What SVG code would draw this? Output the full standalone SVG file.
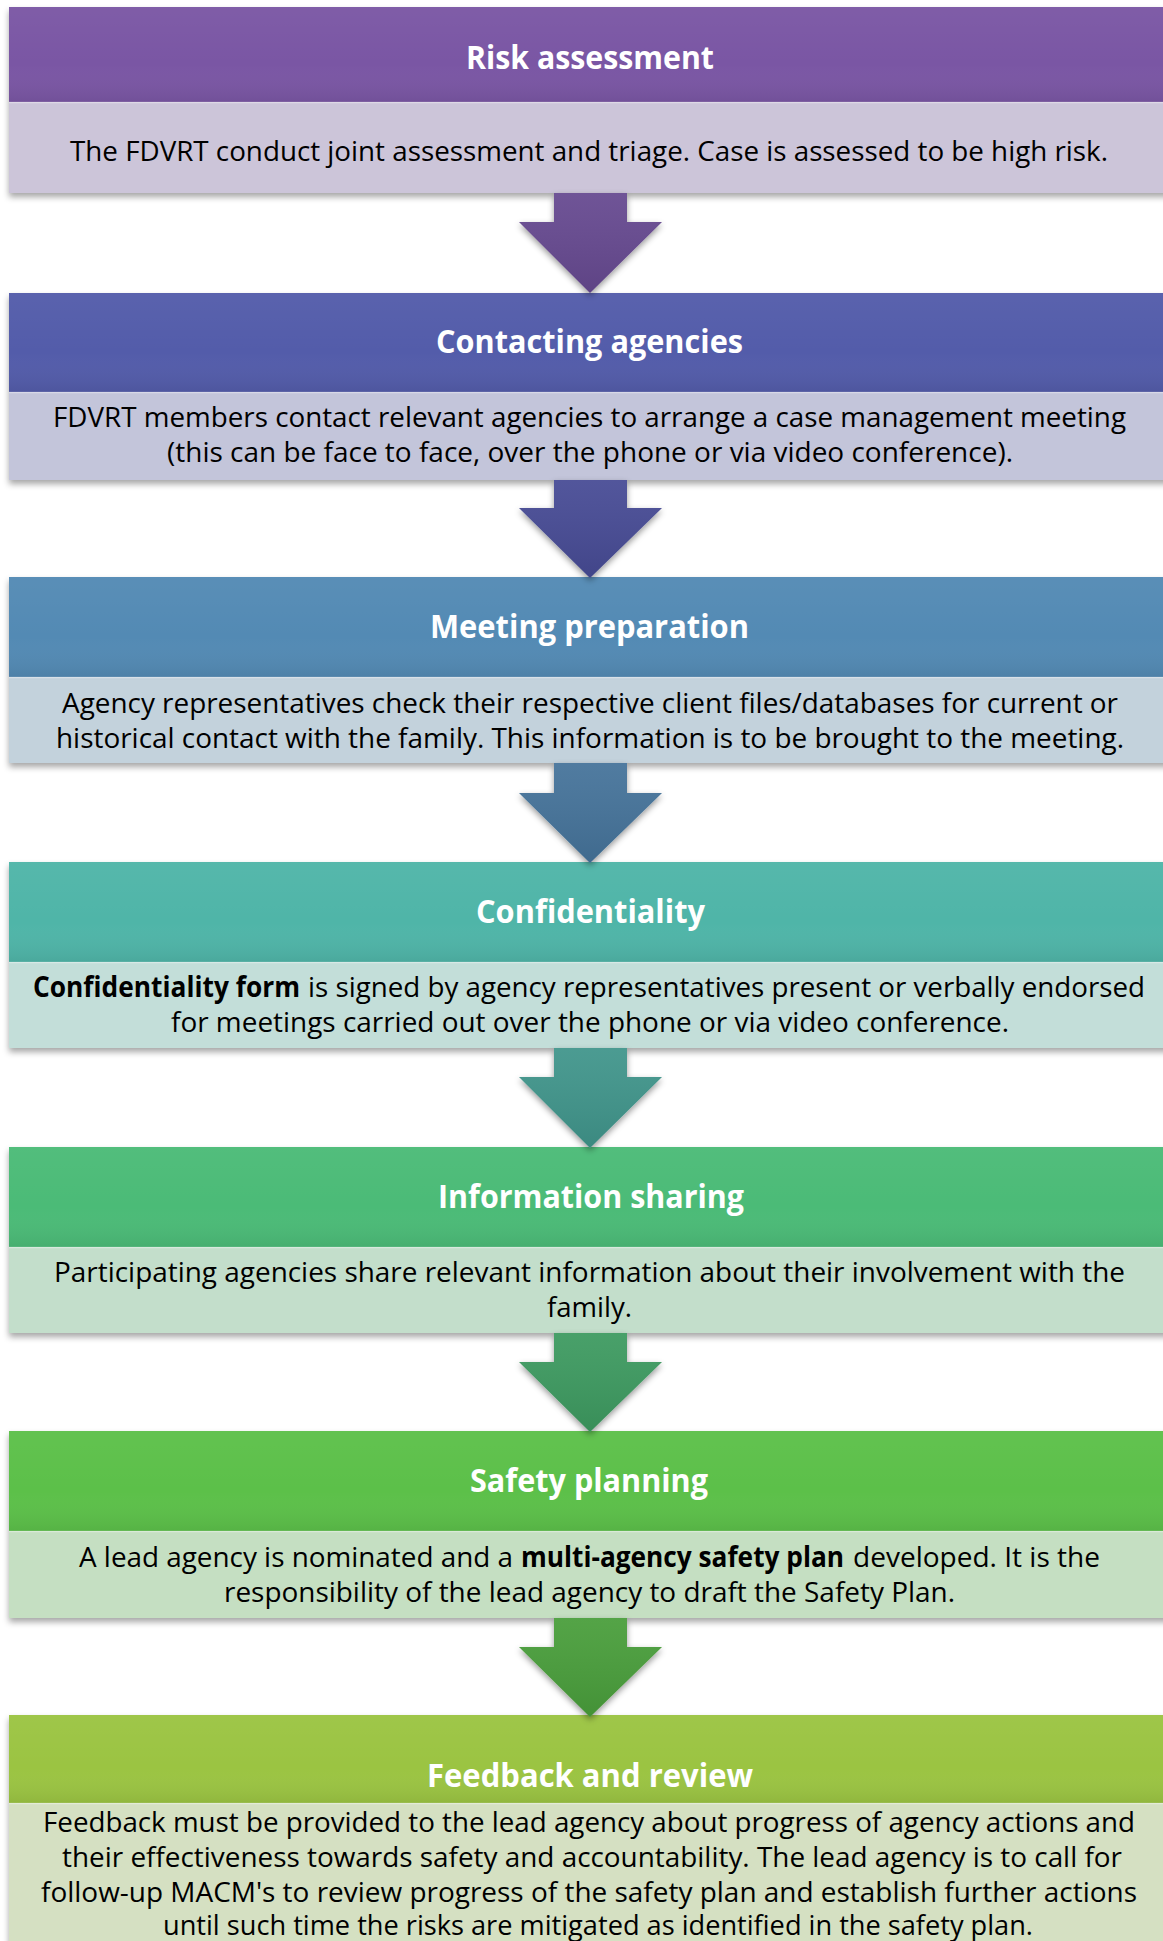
<svg xmlns="http://www.w3.org/2000/svg" width="1163" height="1941" viewBox="0 0 1163 1941">
<defs>
<filter id="sh" x="-5%" y="-10%" width="110%" height="130%">
<feDropShadow dx="0" dy="4" stdDeviation="3" flood-color="#000" flood-opacity="0.35"/>
</filter>
<filter id="ash" x="-30%" y="-10%" width="160%" height="130%">
<feDropShadow dx="0" dy="3" stdDeviation="3" flood-color="#000" flood-opacity="0.4"/>
</filter>
<linearGradient id="shade" x1="0" y1="0" x2="0" y2="1">
<stop offset="0" stop-color="#fff" stop-opacity="0.04"/>
<stop offset="0.6" stop-color="#fff" stop-opacity="0"/>
<stop offset="1" stop-color="#000" stop-opacity="0.07"/>
</linearGradient>
<linearGradient id="ashade" x1="0" y1="0" x2="0" y2="1">
<stop offset="0" stop-color="#fff" stop-opacity="0.06"/>
<stop offset="1" stop-color="#000" stop-opacity="0.08"/>
</linearGradient>
</defs>
<style>
.t{font-family:"Open Sans","Noto Sans","Liberation Sans",sans-serif;font-weight:bold;font-size:32px;fill:#fff}
.b{font-family:"Open Sans","Noto Sans","Liberation Sans",sans-serif;font-size:28px;fill:#000}
.bb{font-family:"Open Sans","Noto Sans","Liberation Sans",sans-serif;font-size:28px;font-weight:bold;fill:#000}
.ov{fill:url(#shade)}
.aov{fill:url(#ashade)}
.sep{stroke:#fff;stroke-opacity:0.35;stroke-width:1.5}
</style>
<rect width="1163" height="1941" fill="#fff"/>

<g id="node-risk-assessment">
<g filter="url(#sh)">
<rect x="9" y="7" width="1170" height="95" fill="#7A57A4"/>
<rect x="9" y="102" width="1170" height="91" fill="#CCC5D9"/>
</g>
<rect x="9" y="7" width="1170" height="95" class="ov"/>
<line x1="9" y1="102.5" x2="1179" y2="102.5" class="sep"/>
<text class="t" x="466" y="69" textLength="248" lengthAdjust="spacingAndGlyphs">Risk assessment</text>
<text class="b" x="70" y="161" textLength="1038" lengthAdjust="spacingAndGlyphs">The FDVRT conduct joint assessment and triage. Case is assessed to be high risk.</text>
</g>

<g id="node-contacting-agencies">
<g filter="url(#sh)">
<rect x="9" y="293" width="1170" height="99" fill="#535BAA"/>
<rect x="9" y="392" width="1170" height="88" fill="#C3C5DA"/>
</g>
<rect x="9" y="293" width="1170" height="99" class="ov"/>
<line x1="9" y1="392.5" x2="1179" y2="392.5" class="sep"/>
<text class="t" x="436" y="353" textLength="307" lengthAdjust="spacingAndGlyphs">Contacting agencies</text>
<text class="b" x="53" y="427" textLength="1073" lengthAdjust="spacingAndGlyphs">FDVRT members contact relevant agencies to arrange a case management meeting</text>
<text class="b" x="167" y="462" textLength="846" lengthAdjust="spacingAndGlyphs">(this can be face to face, over the phone or via video conference).</text>
</g>

<g id="node-meeting-preparation">
<g filter="url(#sh)">
<rect x="9" y="577" width="1170" height="100" fill="#528AB4"/>
<rect x="9" y="677" width="1170" height="86" fill="#C3D2DC"/>
</g>
<rect x="9" y="577" width="1170" height="100" class="ov"/>
<line x1="9" y1="677.5" x2="1179" y2="677.5" class="sep"/>
<text class="t" x="430" y="638" textLength="319" lengthAdjust="spacingAndGlyphs">Meeting preparation</text>
<text class="b" x="62" y="713" textLength="1056" lengthAdjust="spacingAndGlyphs">Agency representatives check their respective client files/databases for current or</text>
<text class="b" x="56" y="748" textLength="1068" lengthAdjust="spacingAndGlyphs">historical contact with the family. This information is to be brought to the meeting.</text>
</g>

<g id="node-confidentiality">
<g filter="url(#sh)">
<rect x="9" y="862" width="1170" height="100" fill="#4FB5A8"/>
<rect x="9" y="962" width="1170" height="86" fill="#C3DED9"/>
</g>
<rect x="9" y="862" width="1170" height="100" class="ov"/>
<line x1="9" y1="962.5" x2="1179" y2="962.5" class="sep"/>
<text class="t" x="476" y="923" textLength="229" lengthAdjust="spacingAndGlyphs">Confidentiality</text>
<text class="bb" x="33" y="997" textLength="267" lengthAdjust="spacingAndGlyphs">Confidentiality form</text>
<text class="b" x="308" y="997" textLength="837" lengthAdjust="spacingAndGlyphs">is signed by agency representatives present or verbally endorsed</text>
<text class="b" x="171" y="1032" textLength="838" lengthAdjust="spacingAndGlyphs">for meetings carried out over the phone or via video conference.</text>
</g>

<g id="node-information-sharing">
<g filter="url(#sh)">
<rect x="9" y="1147" width="1170" height="100" fill="#4CBB77"/>
<rect x="9" y="1247" width="1170" height="86" fill="#C3DECB"/>
</g>
<rect x="9" y="1147" width="1170" height="100" class="ov"/>
<line x1="9" y1="1247.5" x2="1179" y2="1247.5" class="sep"/>
<text class="t" x="438" y="1208" textLength="306" lengthAdjust="spacingAndGlyphs">Information sharing</text>
<text class="b" x="54" y="1282" textLength="1071" lengthAdjust="spacingAndGlyphs">Participating agencies share relevant information about their involvement with the</text>
<text class="b" x="547" y="1317" textLength="85" lengthAdjust="spacingAndGlyphs">family.</text>
</g>

<g id="node-safety-planning">
<g filter="url(#sh)">
<rect x="9" y="1431" width="1170" height="100" fill="#5CC04A"/>
<rect x="9" y="1531" width="1170" height="87" fill="#C5DFC2"/>
</g>
<rect x="9" y="1431" width="1170" height="100" class="ov"/>
<line x1="9" y1="1531.5" x2="1179" y2="1531.5" class="sep"/>
<text class="t" x="470" y="1492" textLength="238" lengthAdjust="spacingAndGlyphs">Safety planning</text>
<text class="b" x="79" y="1567" textLength="434" lengthAdjust="spacingAndGlyphs">A lead agency is nominated and a</text>
<text class="bb" x="521" y="1567" textLength="323" lengthAdjust="spacingAndGlyphs">multi-agency safety plan</text>
<text class="b" x="853" y="1567" textLength="247" lengthAdjust="spacingAndGlyphs">developed. It is the</text>
<text class="b" x="224" y="1602" textLength="731" lengthAdjust="spacingAndGlyphs">responsibility of the lead agency to draft the Safety Plan.</text>
</g>

<g id="node-feedback-and-review">
<g filter="url(#sh)">
<rect x="9" y="1715" width="1170" height="88" fill="#9BC443"/>
<rect x="9" y="1803" width="1170" height="150" fill="#D5E0C2"/>
</g>
<rect x="9" y="1715" width="1170" height="88" class="ov"/>
<line x1="9" y1="1803.5" x2="1179" y2="1803.5" class="sep"/>
<text class="t" x="427" y="1787" textLength="326" lengthAdjust="spacingAndGlyphs">Feedback and review</text>
<text class="b" x="43" y="1832" textLength="1092" lengthAdjust="spacingAndGlyphs">Feedback must be provided to the lead agency about progress of agency actions and</text>
<text class="b" x="62" y="1867" textLength="1060" lengthAdjust="spacingAndGlyphs">their effectiveness towards safety and accountability. The lead agency is to call for</text>
<text class="b" x="41" y="1902" textLength="1096" lengthAdjust="spacingAndGlyphs">follow-up MACM's to review progress of the safety plan and establish further actions</text>
<text class="b" x="163" y="1935" textLength="870" lengthAdjust="spacingAndGlyphs">until such time the risks are mitigated as identified in the safety plan.</text>
</g>

<g id="connectors">
<path filter="url(#ash)" fill="#664890" d="M554,193 L627,193 L627,222 L662,222 L590,293 L519,222 L554,222 Z"/>
<path class="aov" d="M554,193 L627,193 L627,222 L662,222 L590,293 L519,222 L554,222 Z"/>
<path filter="url(#ash)" fill="#474C95" d="M554,480 L627,480 L627,508 L662,508 L590,578 L519,508 L554,508 Z"/>
<path class="aov" d="M554,480 L627,480 L627,508 L662,508 L590,578 L519,508 L554,508 Z"/>
<path filter="url(#ash)" fill="#44739A" d="M554,763 L627,763 L627,793 L662,793 L590,863 L519,793 L554,793 Z"/>
<path class="aov" d="M554,763 L627,763 L627,793 L662,793 L590,863 L519,793 L554,793 Z"/>
<path filter="url(#ash)" fill="#40958B" d="M554,1048 L627,1048 L627,1077 L662,1077 L590,1148 L519,1077 L554,1077 Z"/>
<path class="aov" d="M554,1048 L627,1048 L627,1077 L662,1077 L590,1148 L519,1077 L554,1077 Z"/>
<path filter="url(#ash)" fill="#3E9A61" d="M554,1333 L627,1333 L627,1362 L662,1362 L590,1432 L519,1362 L554,1362 Z"/>
<path class="aov" d="M554,1333 L627,1333 L627,1362 L662,1362 L590,1432 L519,1362 L554,1362 Z"/>
<path filter="url(#ash)" fill="#4A9E3B" d="M554,1618 L627,1618 L627,1647 L662,1647 L590,1717 L519,1647 L554,1647 Z"/>
<path class="aov" d="M554,1618 L627,1618 L627,1647 L662,1647 L590,1717 L519,1647 L554,1647 Z"/>
</g>
</svg>
